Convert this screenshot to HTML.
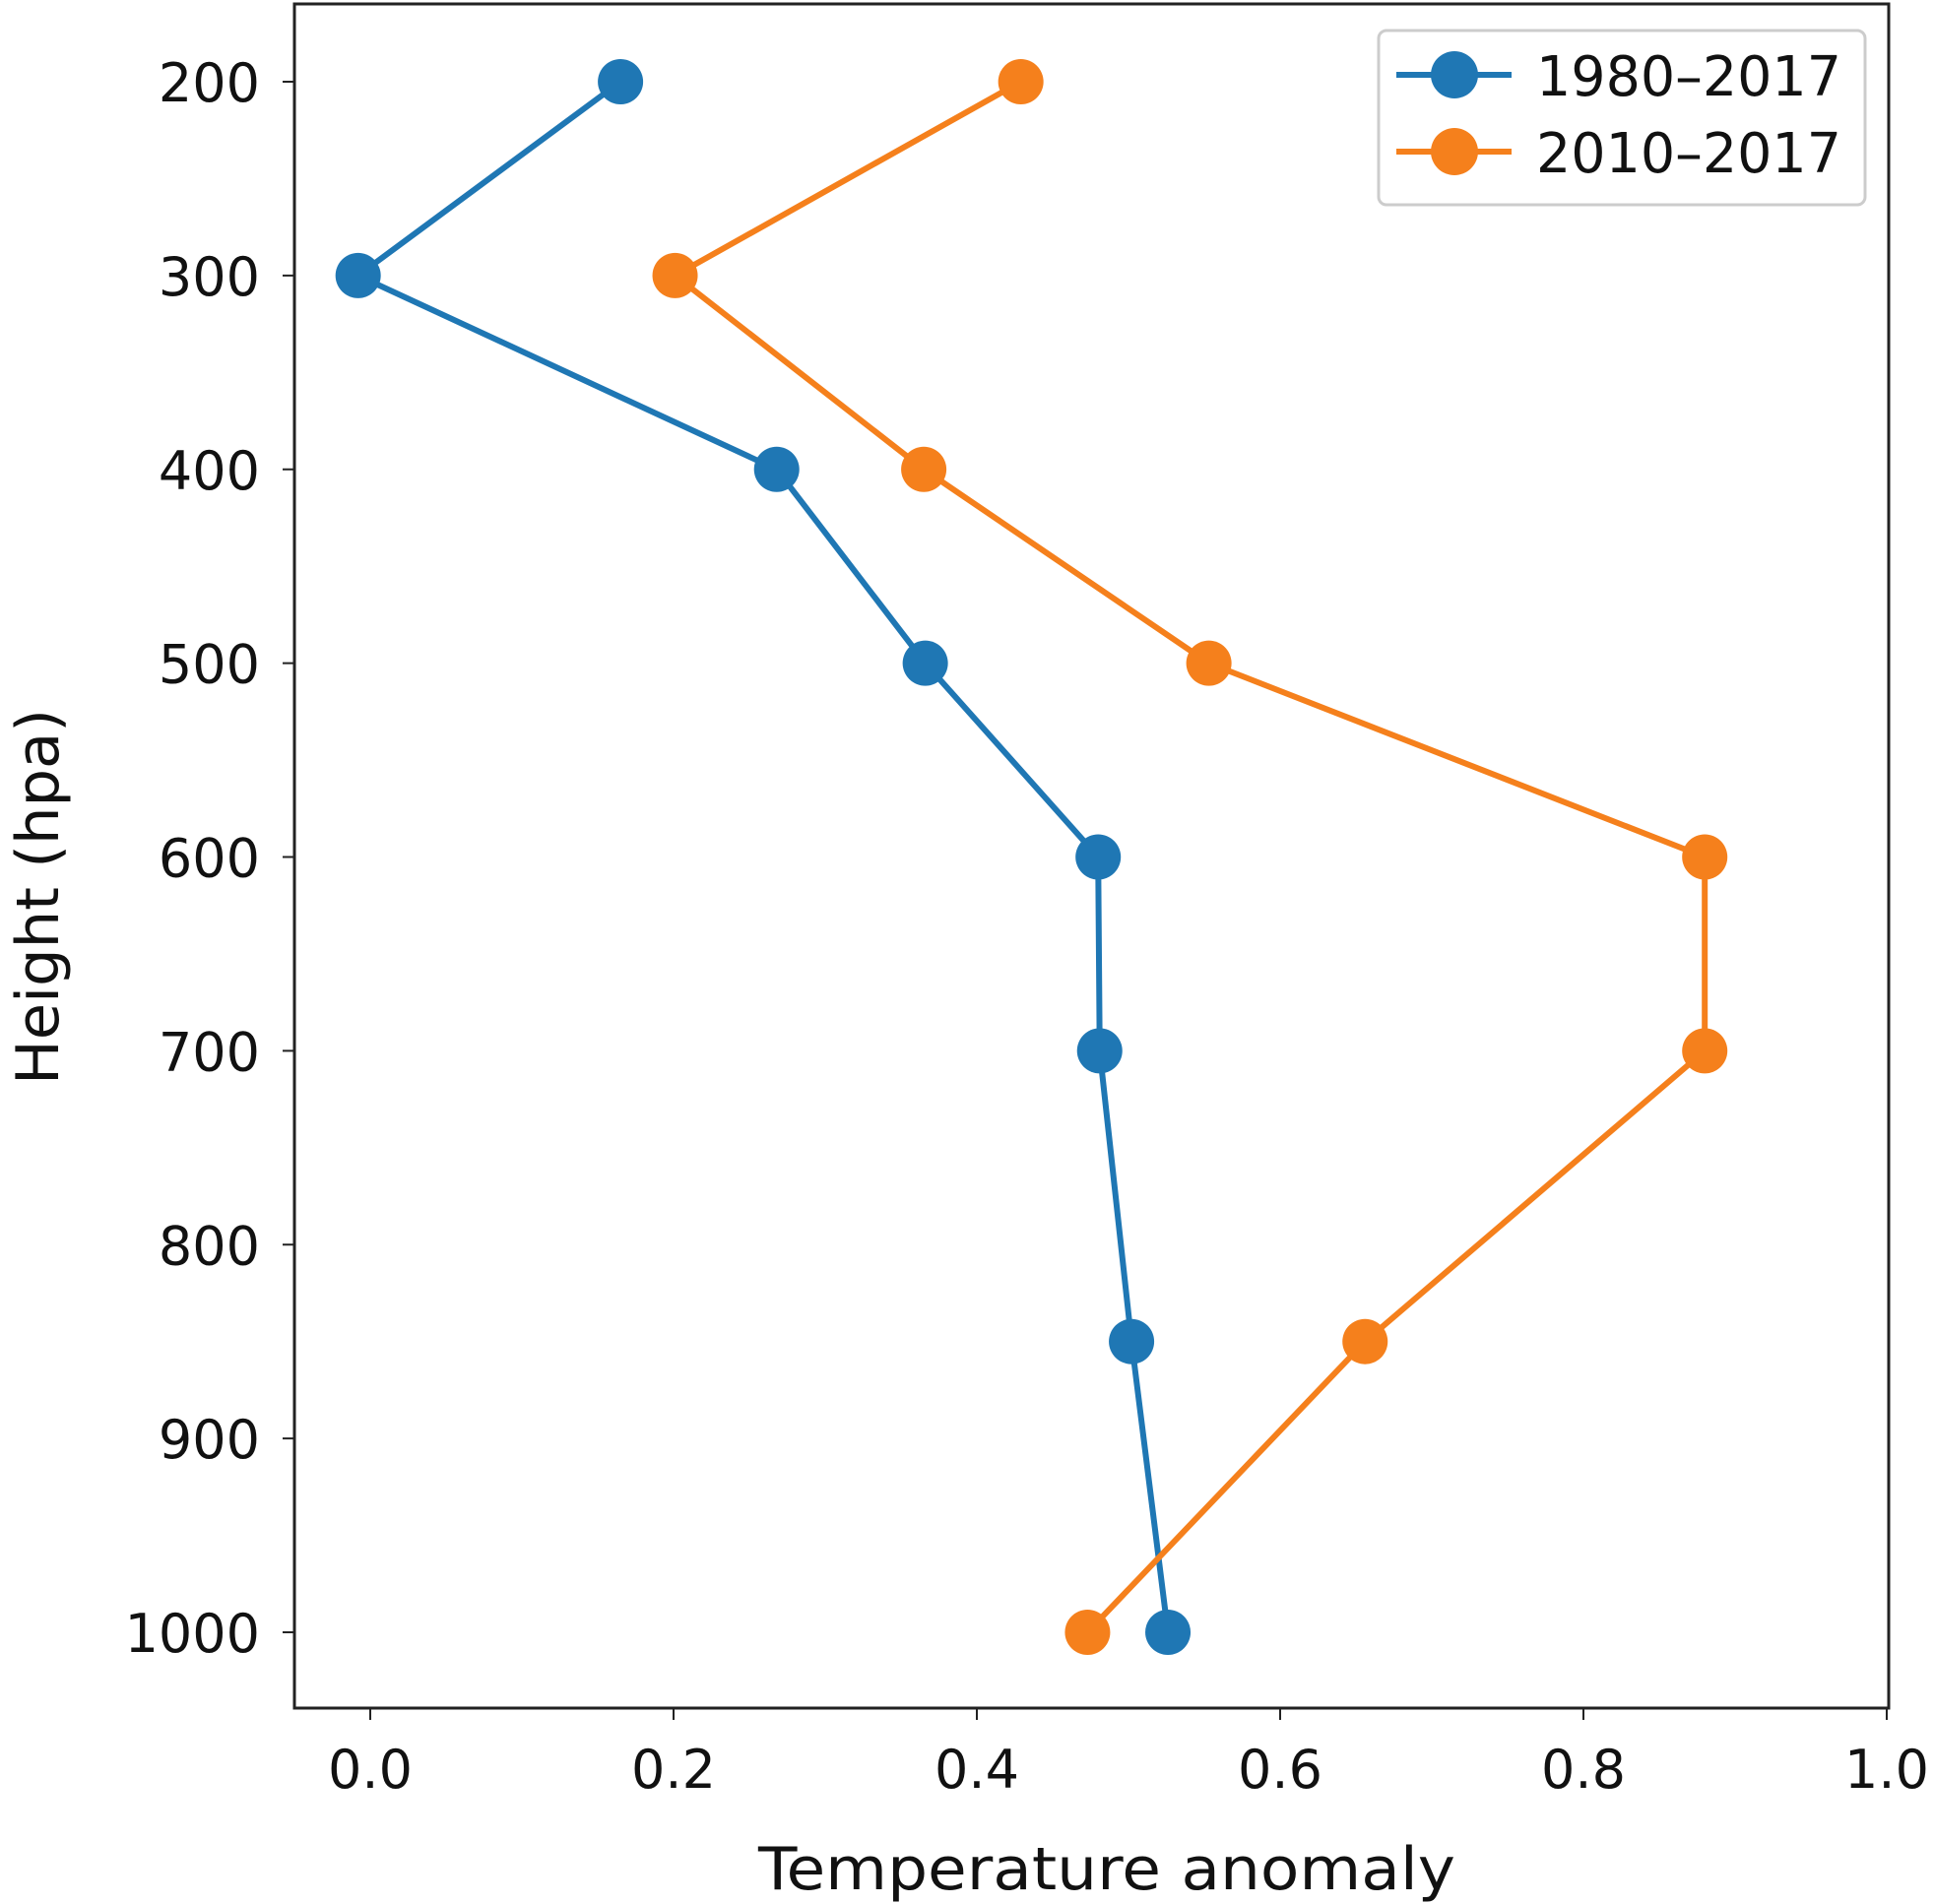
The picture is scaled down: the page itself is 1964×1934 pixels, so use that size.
<!DOCTYPE html>
<html><head><meta charset="utf-8"><style>
html,body{margin:0;padding:0;background:#fff;}
svg{display:block;font-family:"DejaVu Sans","Liberation Sans",sans-serif;}
</style></head><body>
<svg id="chart" width="1964" height="1934" viewBox="0 0 1964 1934" xmlns="http://www.w3.org/2000/svg">
<g id="plot"></g>
<g id="axes"></g>
<g id="legend"></g>
</svg>
<script>
const heights = [200, 300, 400, 500, 600, 700, 850, 1000];
const series1980 = [0.165, -0.008, 0.268, 0.366, 0.480, 0.481, 0.502, 0.526];
const series2010 = [0.429, 0.201, 0.365, 0.553, 0.880, 0.880, 0.656, 0.473];
const xTicks = [0.0, 0.2, 0.4, 0.6, 0.8, 1.0];
const xTickLabels = ["0.0", "0.2", "0.4", "0.6", "0.8", "1.0"];
const yTicks = [200, 300, 400, 500, 600, 700, 800, 900, 1000];
const yTickLabels = ["200", "300", "400", "500", "600", "700", "800", "900", "1000"];
const seriesNames = ["1980\u20132017", "2010\u20132017"];

const NS = "http://www.w3.org/2000/svg";
const L = 299, R = 1918, T = 4, B = 1735;
function xs(v){ return 376 + v * 1540; }
function ys(v){ return 83 + (v - 200) * (1658 - 83) / 800; }
function mk(tag, attrs, parent){
  const e = document.createElementNS(NS, tag);
  for (const k in attrs) e.setAttribute(k, attrs[k]);
  parent.appendChild(e);
  return e;
}
const plot = document.getElementById('plot');
const axes = document.getElementById('axes');
const legend = document.getElementById('legend');

const colors = ["#1f77b4", "#f5801c"];
const dataSets = [series1980, series2010];
dataSets.forEach((vals, si) => {
  const g = mk('g', {}, plot);
  
  
  const pts = vals.map((v, i) => xs(v) + ',' + ys(heights[i])).join(' ');
  const line = mk('polyline', {points: pts, fill: 'none', stroke: colors[si], 'stroke-width': 6, 'stroke-linejoin': 'round'}, g);
  
  
  vals.forEach((v, i) => {
    const c = mk('circle', {cx: xs(v), cy: ys(heights[i]), r: 23, fill: colors[si]}, g);
    
    
  });
});

const frame = mk('rect', {x: L, y: T, width: R - L, height: B - T, fill: 'none', stroke: '#222', 'stroke-width': 3}, axes);



xTicks.forEach((v, i) => {
  const x = xs(v);
  const t = mk('line', {x1: x, y1: B, x2: x, y2: B + 12, stroke: '#222', 'stroke-width': 2}, axes);
  
  
  const tx = mk('text', {x: x, y: 1816, 'font-size': 54, 'text-anchor': 'middle', fill: '#111'}, axes);
  tx.textContent = xTickLabels[i];
  
  
});
yTicks.forEach((v, i) => {
  const y = ys(v);
  const t = mk('line', {x1: L - 12, y1: y, x2: L, y2: y, stroke: '#222', 'stroke-width': 2}, axes);
  
  
  const tx = mk('text', {x: 264, y: y + 20, 'font-size': 54, 'text-anchor': 'end', fill: '#111'}, axes);
  tx.textContent = yTickLabels[i];
  
  
});
const xl = mk('text', {x: 1124, y: 1919, 'font-size': 60, 'text-anchor': 'middle', fill: '#111', textLength: 708, lengthAdjust: 'spacingAndGlyphs'}, axes);
xl.textContent = 'Temperature anomaly';


const yl = mk('text', {x: 0, y: 0, 'font-size': 60, 'text-anchor': 'middle', fill: '#111', textLength: 382, lengthAdjust: 'spacingAndGlyphs', transform: 'translate(59,911) rotate(-90)'}, axes);
yl.textContent = 'Height (hpa)';



const box = mk('rect', {x: 1400, y: 31, width: 494, height: 177, rx: 8, fill: '#fff', stroke: '#ccc', 'stroke-width': 3}, legend);


seriesNames.forEach((name, i) => {
  const cy = 76 + i * 78;
  const g = mk('g', {}, legend);
  
  
  mk('line', {x1: 1418, y1: cy, x2: 1535, y2: cy, stroke: colors[i], 'stroke-width': 6}, g);
  mk('circle', {cx: 1477, cy: cy, r: 24, fill: colors[i]}, g);
  const t = mk('text', {x: 1560, y: cy + 21, 'font-size': 56, fill: '#111', textLength: 310, lengthAdjust: 'spacingAndGlyphs'}, g);
  t.textContent = name;
  
  
});
</script>
</body></html>
